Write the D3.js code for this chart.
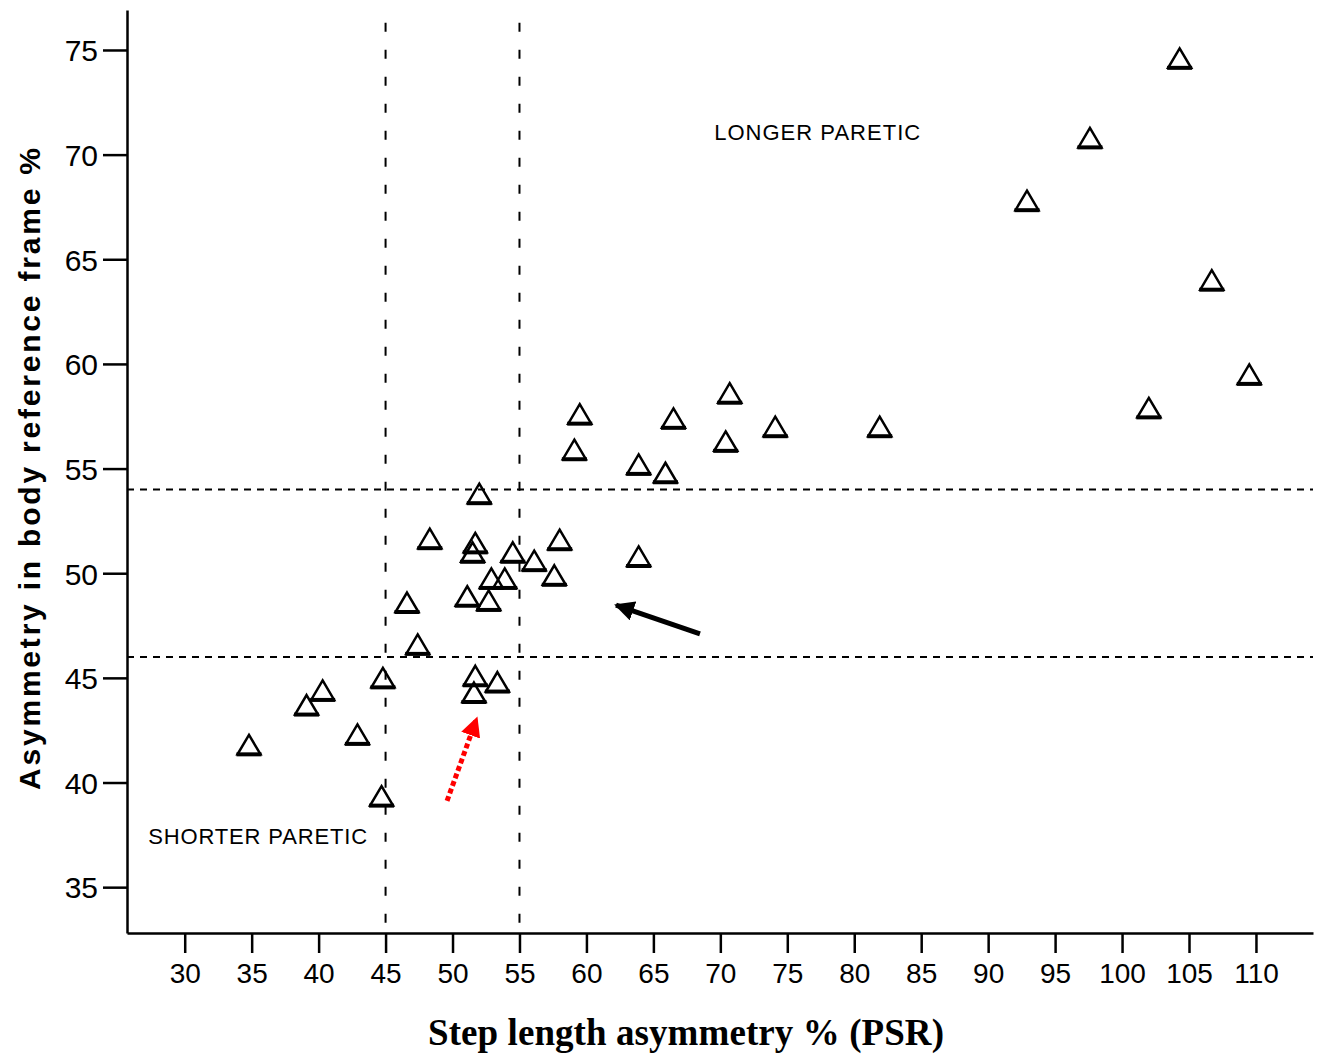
<!DOCTYPE html>
<html>
<head>
<meta charset="utf-8">
<script src="https://cdn.jsdelivr.net/npm/d3@7"></script>
<style>
  body { margin: 0; background: #fff; }
  svg { display: block; }
</style>
</head>
<body>
<div id="chart"></div>
<script>
// data (step length asymmetry vs body frame asymmetry)
var stepAsym = [104.3, 97.6, 92.9, 106.7, 109.5, 102.0,
  59.5, 59.1, 66.5, 70.7, 70.4, 74.1, 81.9, 63.9, 65.9,
  58.0, 63.9, 57.6, 52.0, 48.3, 51.7, 51.5, 54.5, 56.1,
  52.9, 53.9, 51.1, 52.7, 46.6, 47.4, 44.8, 40.3, 39.1,
  42.9, 34.8, 44.7, 51.7, 53.35, 51.6];
var bodyAsym = [74.6, 70.8, 67.8, 64.0, 59.5, 57.9,
  57.6, 55.9, 57.4, 58.6, 56.3, 57.0, 57.0, 55.2, 54.8,
  51.6, 50.8, 49.9, 53.8, 51.65, 51.45, 51.0, 51.0, 50.6,
  49.75, 49.75, 48.9, 48.7, 48.6, 46.6, 45.0, 44.4, 43.7,
  42.3, 41.8, 39.35, 45.1, 44.8, 44.3];

var xTicks = d3.range(30, 111, 5);
var yTicks = d3.range(35, 76, 5);

// reference cut-offs (dashed lines)
var xCuts = [45, 55];
var yCuts = [46, 54];

// region labels and arrows, in data units
var regionLabels = [
  { text: 'LONGER PARETIC', x: 69.54, y: 70.7, len: 206 },
  { text: 'SHORTER PARETIC', x: 27.27, y: 37.06, len: 219 }
];
var arrows = [
  { x1: 68.48, y1: 47.1, x2: 62.21, y2: 48.48, color: '#000', dash: null },
  { x1: 49.59, y1: 39.12, x2: 51.81, y2: 43.07, color: '#ff0000', dash: '5,3' }
];

var width = 1325;
var height = 1055;

var svg = d3.select('#chart').append('svg')
  .attr('width', width)
  .attr('height', height);

var x = d3.scaleLinear().domain([25.69, 114.26]).range([127, 1313]);
var y = d3.scaleLinear().domain([32.81, 76.91]).range([933, 10]);

var tickFont = '"Liberation Sans", Arial, sans-serif';

// dashed cut-off lines
svg.selectAll('line.vcut').data(xCuts).enter().append('line')
  .attr('class', 'vcut')
  .attr('x1', function (d) { return x(d); })
  .attr('x2', function (d) { return x(d); })
  .attr('y1', y(76.3))
  .attr('y2', y.range()[0])
  .style('stroke', '#000')
  .style('stroke-width', 2)
  .style('stroke-dasharray', '9,18');

svg.selectAll('line.hcut').data(yCuts).enter().append('line')
  .attr('class', 'hcut')
  .attr('x1', x.range()[0])
  .attr('x2', x.range()[1])
  .attr('y1', function (d) { return y(d); })
  .attr('y2', function (d) { return y(d); })
  .style('stroke', '#000')
  .style('stroke-width', 2)
  .style('stroke-dasharray', '7,6');

// x axis
var xAxis = svg.append('g')
  .attr('transform', 'translate(0,' + y.range()[0] + ')')
  .call(d3.axisBottom(x).tickValues(xTicks).tickSize(20).tickSizeOuter(0).tickPadding(10));

// y axis
var yAxis = svg.append('g')
  .attr('transform', 'translate(' + x.range()[0] + ',0)')
  .call(d3.axisLeft(y).tickValues(yTicks).tickSize(24).tickSizeOuter(0).tickPadding(5));

[xAxis, yAxis].forEach(function (g) {
  g.select('.domain').style('stroke', '#000').style('stroke-width', 2.5);
  g.selectAll('.tick line').style('stroke', '#000').style('stroke-width', 2.5);
  g.selectAll('.tick text')
    .style('font-family', tickFont)
    .style('font-size', '28px')
    .style('fill', '#000');
});
yAxis.selectAll('.tick text').style('font-size', '30px').attr('dy', '0.36em');

// axis titles
svg.append('text')
  .attr('x', 686)
  .attr('y', 1045)
  .attr('text-anchor', 'middle')
  .attr('textLength', 516)
  .style('font-family', '"Liberation Serif", "Times New Roman", serif')
  .style('font-weight', 'bold')
  .style('font-size', '37px')
  .text('Step length asymmetry % (PSR)');

svg.append('text')
  .attr('transform', 'translate(40,469) rotate(-90)')
  .attr('text-anchor', 'middle')
  .attr('textLength', 642)
  .style('font-family', '"Liberation Sans", Arial, sans-serif')
  .style('font-weight', 'bold')
  .style('font-size', '30px')
  .text('Asymmetry in body reference frame %');

// region labels
svg.selectAll('text.region').data(regionLabels).enter().append('text')
  .attr('class', 'region')
  .attr('x', function (d) { return x(d.x); })
  .attr('y', function (d) { return y(d.y); })
  .attr('textLength', function (d) { return d.len; })
  .style('font-family', tickFont)
  .style('font-size', '22px')
  .text(function (d) { return d.text; });

// triangle markers, open, with heavier base
var tri = svg.append('g').attr('class', 'points')
  .selectAll('g').data(stepAsym).enter().append('g')
  .attr('transform', function (d, i) {
    return 'translate(' + x(d) + ',' + y(bodyAsym[i]) + ')';
  });
tri.append('path')
  .attr('d', 'M0,-10L11.5,9.5L-11.5,9.5Z')
  .style('fill', 'none')
  .style('stroke', '#000')
  .style('stroke-width', 2.5)
  .style('stroke-linejoin', 'miter');
tri.append('line')
  .attr('x1', -12.5).attr('x2', 12.5)
  .attr('y1', 9.5).attr('y2', 9.5)
  .style('stroke', '#000')
  .style('stroke-width', 4);

// arrows
svg.append('defs').selectAll('marker').data(arrows).enter().append('marker')
  .attr('id', function (d, i) { return 'head' + i; })
  .attr('viewBox', '0 0 10 10')
  .attr('refX', 9).attr('refY', 5)
  .attr('markerUnits', 'userSpaceOnUse')
  .attr('markerWidth', 20).attr('markerHeight', 20)
  .attr('orient', 'auto')
  .append('path')
  .attr('d', 'M0,0L10,5L0,10Z')
  .style('fill', function (d) { return d.color; });

svg.selectAll('line.arrow').data(arrows).enter().append('line')
  .attr('class', 'arrow')
  .attr('x1', function (d) { return x(d.x1); })
  .attr('y1', function (d) { return y(d.y1); })
  .attr('x2', function (d) { return x(d.x2); })
  .attr('y2', function (d) { return y(d.y2); })
  .attr('marker-end', function (d, i) { return 'url(#head' + i + ')'; })
  .style('stroke', function (d) { return d.color; })
  .style('stroke-width', 5)
  .style('stroke-dasharray', function (d) { return d.dash; });
</script>
</body>
</html>
